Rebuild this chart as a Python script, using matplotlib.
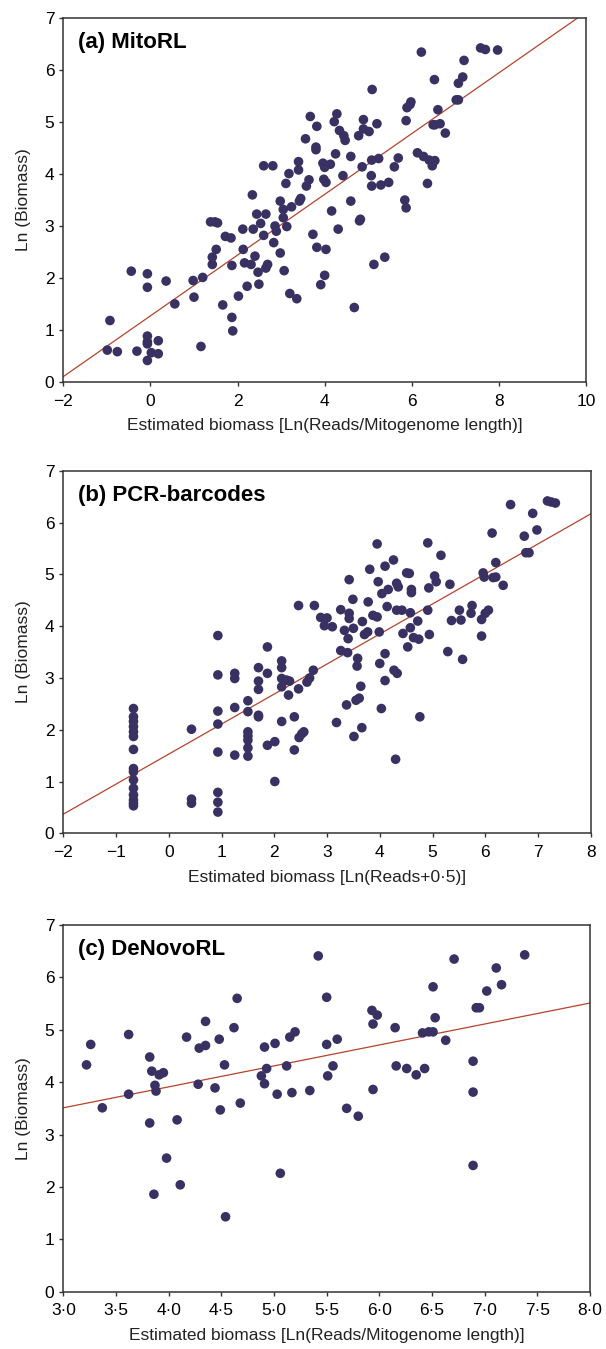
import matplotlib
matplotlib.use('Agg')
import matplotlib.pyplot as plt
from matplotlib.ticker import FuncFormatter

plt.rcParams['font.family'] = ['Liberation Sans', 'DejaVu Sans']

# ---- data ----
# (a) MitoRL
a_x = [-0.93, -0.99, -0.76, -0.44, -0.31, -0.07, -0.07, -0.07, -0.07, -0.07, -0.07, 0.02, 0.18, 0.18,
       0.36, 0.56, 0.98, 1.00, 1.16, 1.20, 1.38, 1.48, 1.54, 1.42, 1.51, 1.42, 1.66, 1.72, 1.85, 1.87,
       1.87, 1.89, 2.02, 2.12, 2.13, 2.16, 2.22, 2.31, 2.36, 2.34, 2.40, 2.44, 2.47, 2.49, 2.53, 2.60,
       2.60, 2.65, 2.65, 2.69, 2.81, 2.83, 2.86, 2.89, 2.98, 2.98, 3.05, 3.05, 3.07, 3.11, 3.13, 3.18,
       3.20, 3.24, 3.36, 3.40, 3.40, 3.42, 3.45, 3.56, 3.58, 3.64, 3.67, 3.73, 3.80, 3.80, 3.82, 3.82,
       3.91, 3.96, 3.98, 4.00, 4.03, 4.00, 4.03, 4.13, 4.16, 4.22, 4.25, 4.28, 4.31, 4.34, 4.42, 4.44,
       4.47, 4.60, 4.60, 4.68, 4.78, 4.80, 4.82, 4.86, 4.89, 4.89, 5.02, 5.07, 5.08, 5.08, 5.09, 5.13,
       5.20, 5.24, 5.29, 5.38, 5.47, 5.60, 5.69, 5.84, 5.87, 5.87, 5.89, 5.96, 5.98, 6.13, 6.22, 6.27,
       6.36, 6.40, 6.47, 6.52, 6.53, 6.53, 6.60, 6.65, 6.77, 7.02, 7.07, 7.17, 7.20, 7.58, 7.69, 7.97,
       6.49, 7.07]
a_y = [1.18, 0.61, 0.58, 2.13, 0.59, 2.08, 1.82, 0.88, 0.77, 0.73, 0.41, 0.56, 0.79, 0.54,
       1.94, 1.50, 1.95, 1.63, 0.68, 2.01, 3.08, 3.08, 3.06, 2.40, 2.55, 2.26, 1.48, 2.80, 2.77, 2.24,
       1.24, 0.98, 1.65, 2.94, 2.55, 2.29, 1.84, 2.26, 2.94, 3.60, 2.42, 3.23, 2.11, 1.88, 3.05, 4.16,
       2.82, 3.23, 2.19, 2.26, 4.16, 2.68, 3.00, 2.90, 3.48, 2.48, 3.32, 3.16, 2.14, 3.82, 2.99, 4.01,
       1.70, 3.37, 1.60, 4.24, 4.08, 3.48, 3.53, 4.68, 3.77, 3.89, 5.11, 2.84, 4.52, 4.47, 4.92, 2.59,
       1.87, 4.21, 3.90, 4.13, 3.84, 2.05, 2.55, 4.19, 3.29, 5.01, 4.39, 5.16, 2.94, 4.84, 3.97, 4.74,
       4.65, 4.34, 3.48, 1.43, 4.74, 3.10, 3.13, 4.14, 5.05, 4.87, 4.82, 3.97, 3.77, 4.27, 5.63, 2.26,
       4.97, 4.30, 3.79, 2.40, 3.84, 4.14, 4.31, 3.50, 3.35, 5.03, 5.28, 5.34, 5.39, 4.41, 6.35, 4.34,
       3.82, 4.27, 4.16, 5.82, 4.95, 4.26, 5.24, 4.97, 4.79, 5.43, 5.75, 5.87, 6.19, 6.43, 6.40, 6.39,
       4.95, 5.43]
a_fit = (1.27, 0.585)  # intercept, slope

# (b) PCR-barcodes
b_x = [-0.67] * 15 + [0.43] * 3 + [0.93] * 8 + [1.25] * 4 + [1.50] * 7 + [1.70] * 5 + [1.87] * 3 + \
      [2.01] * 2 + [2.14] * 5 + \
      [2.23, 2.29, 2.27, 2.38, 2.38, 2.46, 2.46, 2.47, 2.52, 2.56, 2.62, 2.67, 2.74, 2.76, 2.88, 2.95,
       3.00, 3.10, 3.18, 3.26, 3.26, 3.33, 3.37, 3.39, 3.40, 3.42, 3.42, 3.42, 3.49, 3.50, 3.51, 3.55,
       3.58, 3.57, 3.61, 3.64, 3.66, 3.67, 3.71, 3.78, 3.77, 3.81, 3.87, 3.95, 3.95, 3.97, 3.99, 4.00,
       4.03, 4.04, 4.10, 4.10, 4.10, 4.14, 4.16, 4.26, 4.27, 4.32, 4.33, 4.32, 4.35, 4.30, 4.42, 4.44,
       4.51, 4.53, 4.56, 4.58, 4.58, 4.60, 4.60, 4.64, 4.72, 4.74, 4.76, 4.91, 4.91, 4.93, 4.94, 5.04,
       5.07, 5.16, 5.29, 5.33, 5.36, 5.51, 5.54, 5.57, 5.75, 5.73, 5.93, 5.93, 5.96, 5.98, 6.00, 6.06,
       6.13, 6.15, 6.20, 6.20, 6.34, 6.48, 6.74, 6.77, 6.83, 6.90, 6.98, 7.18, 7.25, 7.33]
b_y = [2.41, 2.25, 2.16, 2.06, 1.96, 1.87, 1.62, 1.25, 1.19, 1.03, 0.87, 0.74, 0.64, 0.58, 0.53,
       2.01, 0.66, 0.58,
       3.82, 3.06, 2.36, 2.11, 1.57, 0.79, 0.60, 0.41,
       3.09, 2.99, 2.43, 1.51,
       2.56, 2.35, 1.96, 1.88, 1.80, 1.65, 1.49,
       3.20, 2.94, 2.78, 2.28, 2.25,
       3.60, 3.09, 1.70,
       1.77, 1.00,
       3.33, 3.20, 2.99, 2.83, 2.16,
       2.96, 2.94, 2.67, 2.25, 1.61, 4.40, 2.79, 1.85, 1.92, 1.96, 2.92, 3.00, 3.15, 4.40, 4.17, 4.01,
       4.16, 3.99, 2.14, 4.32, 3.53, 3.92, 2.48, 3.49, 3.76, 4.90, 4.25, 4.15, 4.52, 3.96, 1.87, 2.57,
       3.38, 3.23, 2.61, 2.84, 2.04, 4.09, 3.84, 4.47, 3.89, 5.10, 4.21, 4.18, 5.59, 4.86, 3.89, 3.28,
       2.41, 4.63, 3.47, 2.95, 5.16, 4.38, 4.71, 5.28, 3.15, 4.31, 3.09, 4.83, 4.76, 1.43, 4.31, 3.86,
       5.03, 3.60, 5.02, 3.97, 4.26, 4.71, 4.65, 3.78, 4.10, 3.75, 2.25, 5.61, 4.31, 4.74, 3.84, 4.97,
       4.86, 5.37, 3.51, 4.81, 4.11, 4.31, 4.12, 3.36, 4.40, 4.25, 3.81, 4.13, 5.03, 4.95, 4.25, 4.31,
       5.80, 4.94, 5.23, 4.95, 4.79, 6.35, 5.74, 5.42, 5.42, 6.18, 5.86, 6.42, 6.40, 6.38]
b_fit = (1.53, 0.58)

# (c) DeNovoRL
c_x = [3.22, 3.26, 3.37, 3.62, 3.62, 3.82, 3.82, 3.84, 3.86, 3.87, 3.88, 3.91, 3.95, 3.98, 4.08,
       4.11, 4.17, 4.28, 4.29, 4.35, 4.35, 4.44, 4.48, 4.49, 4.53, 4.54, 4.62, 4.65, 4.68, 4.88,
       4.91, 4.91, 4.93, 5.01, 5.03, 5.06, 5.12, 5.15, 5.17, 5.20, 5.34, 5.42, 5.50, 5.50, 5.51,
       5.56, 5.60, 5.69, 5.80, 5.93, 5.94, 5.94, 5.98, 6.15, 6.16, 6.26, 6.35, 6.41, 6.43, 6.47,
       6.51, 6.51, 6.53, 6.63, 6.71, 6.89, 6.89, 6.89, 6.92, 6.95, 7.02, 7.11, 7.16, 7.38]
c_y = [4.33, 4.72, 3.51, 4.91, 3.77, 4.48, 3.22, 4.21, 1.86, 3.94, 3.83, 4.14, 4.18, 2.55, 3.28,
       2.04, 4.86, 3.96, 4.65, 4.70, 5.16, 3.89, 4.82, 3.47, 4.33, 1.43, 5.04, 5.60, 3.60, 4.12,
       3.97, 4.67, 4.26, 4.74, 3.77, 2.26, 4.31, 4.86, 3.80, 4.96, 3.84, 6.41, 5.62, 4.72, 4.12,
       4.31, 4.82, 3.50, 3.35, 5.37, 5.11, 3.86, 5.28, 5.04, 4.31, 4.26, 4.14, 4.94, 4.26, 4.96,
       4.96, 5.82, 5.23, 4.80, 6.35, 4.40, 3.81, 2.41, 5.42, 5.42, 5.74, 6.18, 5.86, 6.43]
c_fit = (2.31, 0.40)

panels = [
    ('(a) MitoRL', a_x, a_y, a_fit, (-2, 10), list(range(-2, 11, 2)),
     'Estimated biomass [Ln(Reads/Mitogenome length)]', [0.1045, 0.7170, 0.8625, 0.2694]),
    ('(b) PCR-barcodes', b_x, b_y, b_fit, (-2, 8), list(range(-2, 9)),
     'Estimated biomass [Ln(Reads+0\u00b75)]', [0.1045, 0.3823, 0.8703, 0.2686]),
    ('(c) DeNovoRL', c_x, c_y, c_fit, (3, 8), [3 + 0.5 * i for i in range(11)],
     'Estimated biomass [Ln(Reads/Mitogenome length)]', [0.1045, 0.0425, 0.8691, 0.2718]),
]

dot_color = '#3a3163'
line_color = '#b5432c'

fig = plt.figure(figsize=(6.06, 13.49), dpi=100)

for i, (title, xs, ys, fit, xlim, xticks, xlabel, rect) in enumerate(panels):
    ax = fig.add_axes(rect)
    ax.axline((0, fit[0]), slope=fit[1], color=line_color, linewidth=0.9, zorder=2)
    ax.scatter(xs, ys, s=48, color=dot_color, edgecolors='none', zorder=3)
    ax.set_xlim(*xlim)
    ax.set_ylim(0, 7)
    ax.set_xticks(xticks)
    ax.set_yticks(range(0, 8))
    if i == 2:
        ax.xaxis.set_major_formatter(FuncFormatter(lambda v, p: f'{v:.1f}'.replace('.', '\u00b7')))
    else:
        ax.xaxis.set_major_formatter(FuncFormatter(lambda v, p: f'{v:g}'.replace('-', '\u2212')))
    ax.tick_params(direction='out', length=3, width=1, pad=3.5, labelsize=12.5, color='#333333')
    ax.tick_params(axis='x', pad=5.5)
    for sp in ax.spines.values():
        sp.set_linewidth(1.1)
        sp.set_color('#333333')
    ax.set_xlabel(xlabel, fontsize=12.5, labelpad=7, color='#222222')
    ax.set_ylabel('Ln (Biomass)', fontsize=12.5, labelpad=10, color='#222222')
    ax.text(0.028, 0.933, title, transform=ax.transAxes, fontsize=16, fontweight='bold',
            ha='left', va='center')

fig.savefig('out.png', dpi=100)
plt.close(fig)
